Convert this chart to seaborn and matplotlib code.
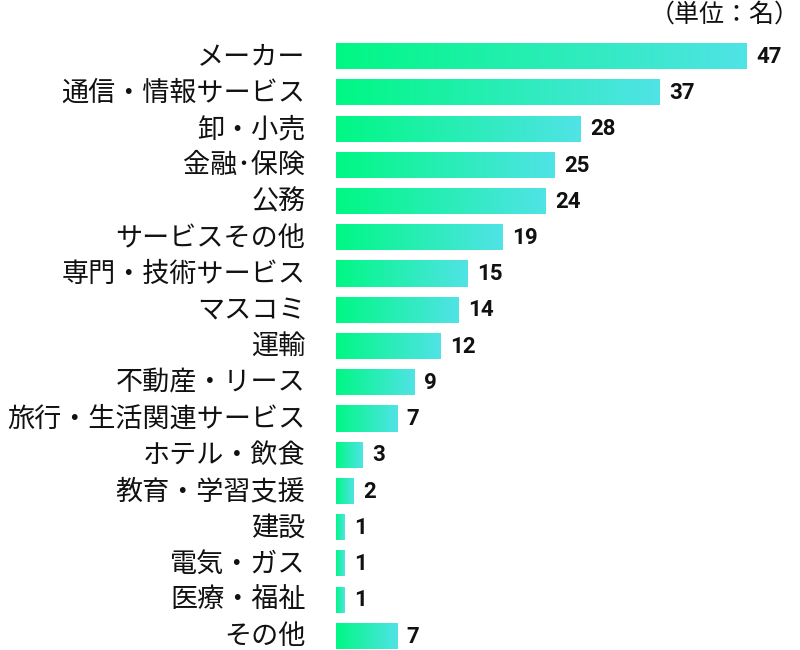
import matplotlib
matplotlib.use("Agg")
import matplotlib.pyplot as plt
import matplotlib.transforms as mtransforms
import seaborn as sns
import numpy as np
import pandas as pd
from matplotlib.colors import LinearSegmentedColormap

categories = ["メーカー", "通信・情報サービス", "卸・小売", "金融･保険", "公務",
              "サービスその他", "専門・技術サービス", "マスコミ", "運輸", "不動産・リース",
              "旅行・生活関連サービス", "ホテル・飲食", "教育・学習支援", "建設",
              "電気・ガス", "医療・福祉", "その他"]
values = [47, 37, 28, 25, 24, 19, 15, 14, 12, 9, 7, 3, 2, 1, 1, 1, 7]
unit_label = "（単位：名）"

sns.set_theme(style="white")
plt.rcParams['font.family'] = ['Noto Sans CJK JP', 'DejaVu Sans']

df = pd.DataFrame({"cat": categories, "val": values})

fig = plt.figure(figsize=(8, 6.5), dpi=100)
ax = fig.add_axes([0.42, 0.0, 0.58, 0.9415])
sns.barplot(data=df, x="val", y="cat", orient="h", width=0.72, ax=ax,
            color="#00F884", saturation=1)

XMAX = (800 - 336) / (411 / 47)
cmap = LinearSegmentedColormap.from_list("g", ["#00F884", "#50E3E6"])
grad = np.linspace(0, 1, 256).reshape(1, -1)
for p in ax.patches:
    x0, y0 = p.get_x(), p.get_y()
    w, h = p.get_width(), p.get_height()
    im = ax.imshow(grad, cmap=cmap, aspect="auto",
                   extent=[x0, x0 + w, y0 + h, y0], zorder=2)
    im.set_clip_path(p)
    p.set_facecolor("none")
    p.set_edgecolor("none")
ax.set_xlim(0, XMAX)
ax.set_ylim(16.39, -0.5)

for i, v in enumerate(values):
    ax.text(v + 1.1, i + 0.02, str(v), va="center", ha="left", fontsize=16,
            fontweight="bold", family=["Roboto", "DejaVu Sans"], color="#111111")

ax.set_xlabel("")
ax.set_ylabel("")
ax.set_xticks([])
ax.tick_params(axis="y", length=0, pad=22, labelsize=19.5, labelcolor="#111111")
shift = mtransforms.ScaledTranslation(0, 2 / 100, fig.dpi_scale_trans)
for lab in ax.get_yticklabels():
    lab.set_transform(lab.get_transform() + shift)
for s in ax.spines.values():
    s.set_visible(False)

fig.text(1.0, 0.998, unit_label, ha="right", va="top", fontsize=18, color="#111111")

fig.savefig("out.png", dpi=100, facecolor="white")
